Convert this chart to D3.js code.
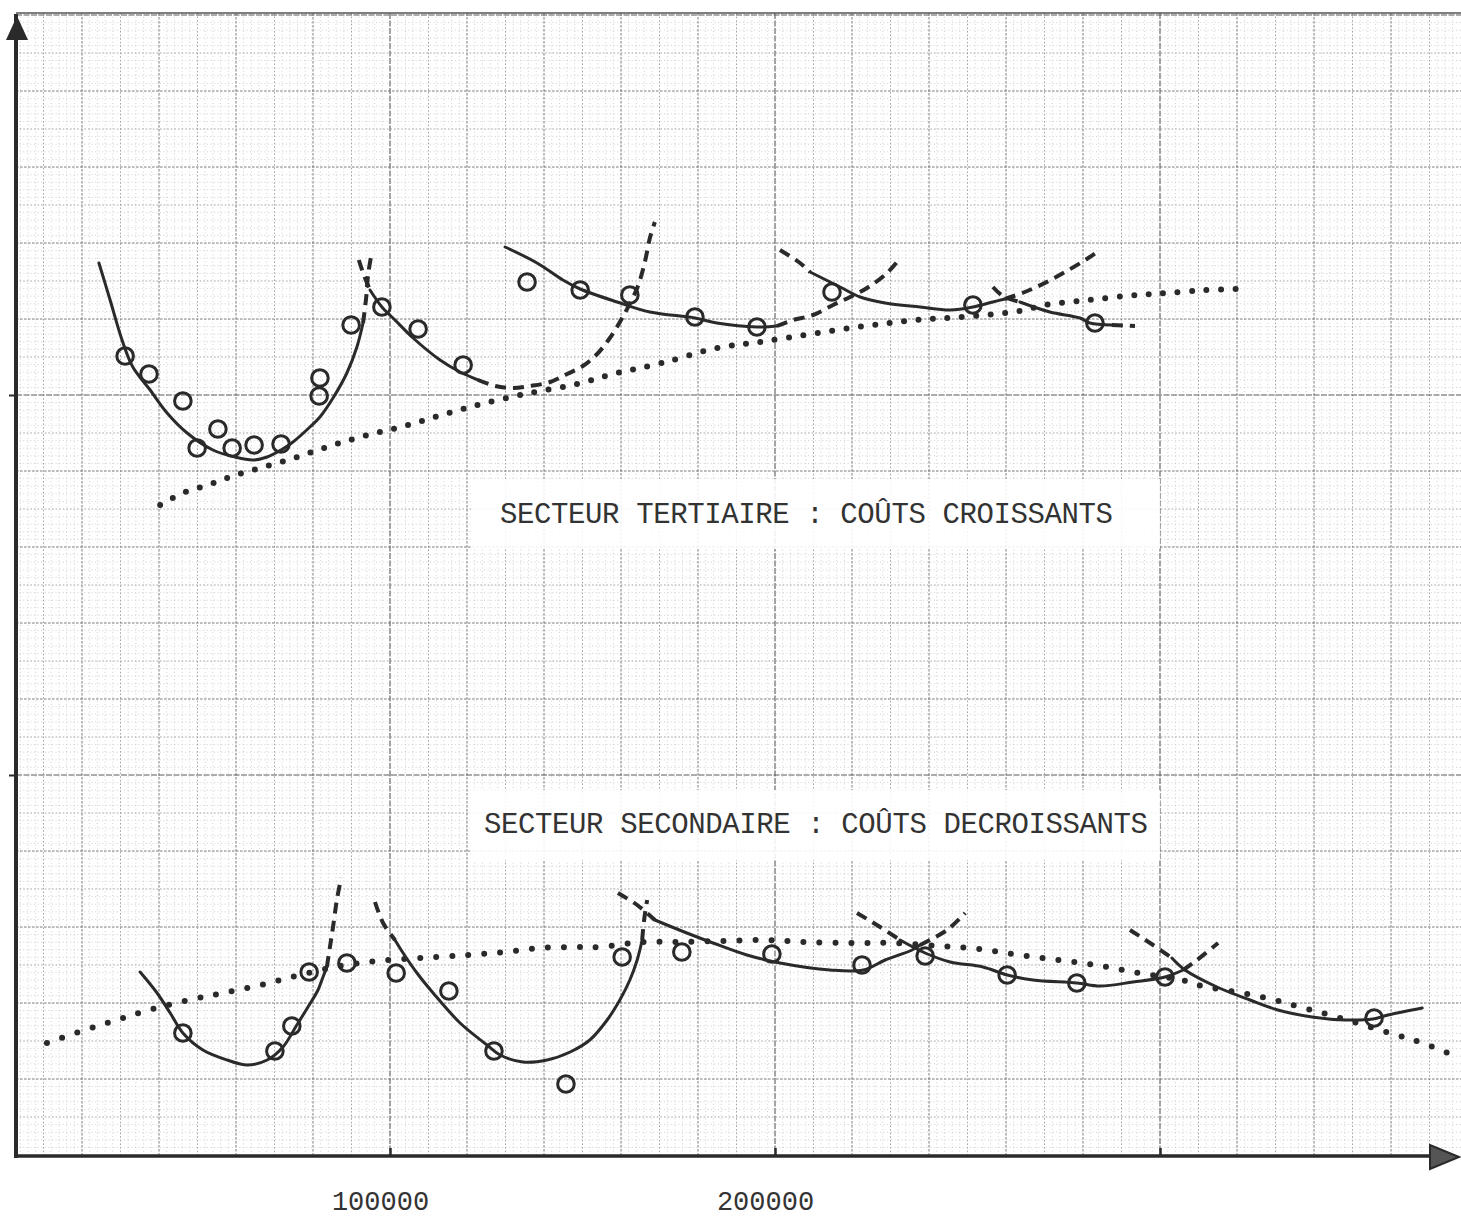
<!DOCTYPE html>
<html><head><meta charset="utf-8">
<script src="https://cdn.jsdelivr.net/npm/d3@7"></script>
<style>html,body{margin:0;padding:0;background:#fff;} svg{display:block}</style>
</head><body>
<svg id="chart" width="1461" height="1220"></svg>
<script>
// ---------- DATA (x in thousands, y arbitrary cost units) ----------
const xTickLabels = [100, 200];          // shown as 100000, 200000
const xTickMarks = [100, 200, 300];
const yTickMarks = [38, 76];
const labelTertiaire = "SECTEUR TERTIAIRE : COÛTS CROISSANTS";
const labelSecondaire = "SECTEUR SECONDAIRE : COÛTS DECROISSANTS";

// Secteur tertiaire : observations
const tertPoints = [[31.2,79.9],[37.4,78.1],[46.2,75.4],[55.3,72.6],[49.9,70.7],[59.0,70.7],[64.7,71.0],[71.7,71.1],[81.8,77.7],[81.6,75.9],[89.9,83.0],[97.9,84.8],[107.3,82.6],[119.0,79.0],[135.6,87.3],[149.4,86.5],[162.3,86.0],[179.2,83.8],[195.3,82.8],[214.8,86.3],[251.4,85.0],[283.1,83.2]];
// Secteur tertiaire : enveloppe (pointillé)
const tertEnvelope = [[40.3,65.0],[46.2,66.2],[52.7,67.0],[59.2,67.9],[66.2,68.7],[73.5,69.5],[80.5,70.4],[87.0,71.2],[94.3,72.0],[101.8,72.7],[109.1,73.5],[116.1,74.3],[124.7,75.2],[136.4,76.2],[148.6,77.1],[159.0,78.2],[170.6,79.2],[184.9,80.7],[197.9,81.4],[219.5,82.7],[236.9,83.5],[248.1,83.8],[263.6,84.4],[270.1,85.0],[281.3,85.5],[294.0,86.0],[301.8,86.2],[311.7,86.5],[320.0,86.6]];
// Secteur tertiaire : courbes de coût (trait plein + prolongements tiretés)
const t1Solid = [[24.4,89.2],[27.3,85.5],[30.4,81.5],[33.2,78.8],[37.7,76.5],[42.1,74.2],[47.3,72.2],[54.0,70.5],[59.7,69.8],[64.4,69.5],[68.1,69.8],[71.7,70.5],[74.8,71.3],[79.2,72.8],[81.8,73.8],[85.2,75.7],[88.8,78.2],[91.4,80.8],[93.0,83.2]];
const t1DashOut = [[93.0,83.2],[93.8,85.7],[94.3,88.0],[95.3,90.3]];
const t2DashIn = [[91.9,89.5],[93.2,88.0],[94.8,86.5]];
const t2Solid = [[94.8,86.5],[97.9,84.8],[101.3,83.5],[106.0,81.7],[113.0,79.5],[118.2,78.3],[122.9,77.5]];
const t2DashOut = [[122.9,77.5],[127.3,76.9],[131.7,76.7],[136.4,76.9],[141.6,77.3],[146.0,78.1],[150.1,78.9],[153.8,80.1],[157.1,81.7],[160.3,83.7],[164.2,86.7],[166.2,89.3],[167.5,91.7],[168.8,93.3]];
const t3Solid = [[129.9,90.8],[138.2,89.2],[144.9,87.5],[149.4,86.6],[159.0,85.3],[167.5,84.3],[179.2,83.7],[184.9,83.2],[195.3,82.8],[200.5,82.9]];
const t3DashOut = [[200.5,82.9],[204.7,83.5],[209.9,84.0],[215.1,85.0],[219.5,85.8],[223.9,86.7],[229.1,88.2],[232.5,89.7]];
const t4DashIn = [[201.3,90.5],[206.5,89.2],[209.1,88.3]];
const t4Solid = [[209.1,88.3],[216.9,86.8],[222.1,85.8],[228.6,85.2],[237.7,84.8],[245.5,84.5],[251.4,84.8],[256.6,85.3],[259.7,85.6]];
const t4DashOut = [[259.7,85.6],[264.9,86.3],[270.1,87.2],[275.8,88.4],[281.0,89.6],[283.6,90.3]];
const t5DashIn = [[256.6,86.8],[259.2,85.9],[263.6,85.3]];
const t5Solid = [[263.6,85.3],[271.4,84.3],[279.2,83.7],[281.8,83.2],[287.5,83.0]];
const t5DashOut = [[287.5,83.0],[293.5,82.9]];

// Secteur secondaire : observations
const secPoints = [[46.2,12.2],[70.1,10.4],[74.5,12.9],[79.0,18.3],[88.8,19.2],[101.6,18.2],[115.3,16.4],[127.0,10.4],[145.7,7.1],[160.3,19.8],[175.8,20.3],[199.2,20.1],[222.6,19.0],[239.0,19.9],[260.3,18.0],[278.4,17.2],[301.3,17.8],[355.6,13.7]];
// Secteur secondaire : enveloppe (pointillé)
const secEnvelope = [[10.9,11.2],[20.8,12.5],[29.1,13.5],[37.4,14.5],[49.1,15.6],[57.9,16.3],[67.5,17.1],[76.6,18.0],[87.0,18.9],[96.9,19.4],[108.3,19.7],[120.3,20.0],[129.9,20.3],[139.0,20.7],[147.5,20.8],[154.5,20.8],[165.7,21.3],[174.5,21.3],[185.7,21.4],[197.4,21.5],[207.8,21.3],[220.0,21.2],[230.6,21.2],[242.9,20.9],[253.2,20.6],[261.6,20.1],[269.4,19.7],[277.9,19.3],[286.2,18.8],[294.3,18.2],[305.7,17.5],[309.9,17.0],[326.5,15.8],[336.4,14.8],[346.8,13.7],[359.7,12.2],[368.1,11.2],[376.6,9.9]];
// Secteur secondaire : courbes de coût
const s1Solid = [[35.1,18.3],[39.5,16.2],[42.9,14.2],[46.2,12.2],[51.4,10.5],[57.7,9.5],[62.9,9.0],[68.1,9.5],[72.2,10.8],[75.8,13.0],[78.7,14.8],[81.3,16.5],[82.6,17.8],[83.6,18.8]];
const s1DashOut = [[83.6,18.8],[84.4,20.8],[85.2,22.8],[86.2,25.5],[87.3,27.7]];
const s2DashIn = [[96.1,25.3],[98.2,23.2],[101.3,21.5]];
const s2Solid = [[101.3,21.5],[103.4,20.2],[107.0,18.2],[111.2,16.2],[118.2,13.2],[125.2,11.0],[128.6,10.0],[134.5,9.3],[140.8,9.5],[146.8,10.3],[151.9,11.5],[156.4,13.5],[159.7,15.5],[162.3,17.5],[164.2,19.5],[165.5,21.5]];
const s2DashOut = [[165.5,21.5],[166.0,23.5],[166.8,25.5]];
const s3DashIn = [[159.2,26.2],[164.2,25.0],[168.8,23.5]];
const s3Solid = [[168.8,23.5],[177.1,22.2],[183.9,21.2],[192.7,20.0],[201.3,19.2],[214.3,18.5],[222.9,18.5],[228.6,19.5],[235.6,20.5],[237.7,21.0]];
const s3DashOut = [[237.7,21.0],[244.7,22.5],[249.4,24.2]];
const s4DashIn = [[221.3,24.2],[227.3,22.8],[232.5,21.5]];
const s4Solid = [[232.5,21.5],[239.0,20.2],[245.5,19.3],[254.0,18.8],[260.3,18.0],[267.0,17.5],[278.4,17.2],[284.4,16.9],[293.0,17.3],[301.3,17.8],[306.0,18.5]];
const s4DashOut = [[306.0,18.5],[309.6,19.5],[315.1,21.2]];
const s5DashIn = [[292.2,22.5],[298.2,21.0],[303.1,19.7]];
const s5Solid = [[303.1,19.7],[306.5,18.5],[314.8,16.8],[323.4,15.5],[330.6,14.5],[339.5,13.8],[348.1,13.5],[355.3,13.6],[359.2,14.0],[368.1,14.7]];

// ---------- DRAWING ----------
const svg = d3.select("#chart");
const W = 1461, H = 1220;
const x = d3.scaleLinear().domain([0, 100]).range([5, 390]);
const y = d3.scaleLinear().domain([0, 114]).range([1155, 15]);
const ink = "#2a2a2a";
const fontMono = "'Liberation Mono','DejaVu Sans Mono',monospace";

svg.append("rect").attr("width", W).attr("height", H).attr("fill", "#fff");

// graph paper
const grid = svg.append("g");
const gx0 = 16, gx1 = W, gy0 = 13, gy1 = 1156;
function styleGrid(sel, cls) {
  const st = [
    {c: "#b0b0b0", w: 0.6, d: "1,2.6"},
    {c: "#8e8e8e", w: 0.8, d: "1.6,2"},
    {c: "#6e6e6e", w: 0.9, d: "2.6,1.4"},
    {c: "#5a5a5a", w: 1.1, d: "6,1.5"}
  ][cls];
  sel.attr("stroke", st.c).attr("stroke-width", st.w);
  if (st.d) sel.attr("stroke-dasharray", st.d);
}
d3.range(2, 378, 2).forEach(k => {
  const px = x(k);
  if (px < gx0 + 2) return;
  const cls = k % 100 === 0 ? 3 : k % 20 === 0 ? 2 : k % 10 === 0 ? 1 : 0;
  grid.append("line").attr("x1", px).attr("x2", px).attr("y1", gy0).attr("y2", gy1).call(styleGrid, cls);
});
d3.range(1, 151).forEach(i => {
  const py = y(i * 0.76);
  const cls = i % 50 === 0 ? 3 : i % 10 === 0 ? 2 : i % 5 === 0 ? 1 : 0;
  grid.append("line").attr("x1", gx0).attr("x2", gx1).attr("y1", py).attr("y2", py).call(styleGrid, cls);
});

// white patches behind labels
svg.append("rect").attr("x", 472).attr("y", 479).attr("width", 688).attr("height", 70).attr("fill", "#fff").attr("opacity", 0.88);
svg.append("rect").attr("x", 470).attr("y", 790).attr("width", 690).attr("height", 70).attr("fill", "#fff").attr("opacity", 0.88);

// top paper border
svg.append("line").attr("x1", 16).attr("x2", W).attr("y1", 13).attr("y2", 13)
  .attr("stroke", "#555").attr("stroke-width", 1.6);

// axes
const xAxisY = 1156;
const yAxisX = 16;
svg.append("line").attr("x1", yAxisX).attr("x2", yAxisX).attr("y1", 14).attr("y2", xAxisY + 2)
  .attr("stroke", ink).attr("stroke-width", 4);
svg.append("path").attr("d", `M${yAxisX+1},16 L${yAxisX-10},40 L${yAxisX+12},40 Z`).attr("fill", ink);
svg.append("line").attr("x1", yAxisX - 2).attr("x2", 1440).attr("y1", xAxisY).attr("y2", xAxisY)
  .attr("stroke", ink).attr("stroke-width", 3.5);
svg.append("path").attr("d", `M1459,${xAxisY+1} L1430,${xAxisY-11} L1430,${xAxisY+13} Z`)
  .attr("fill", "#555").attr("stroke", ink).attr("stroke-width", 2);

// tick marks
const xMarks = svg.append("g").attr("transform", `translate(0,${xAxisY})`)
  .call(d3.axisBottom(x).tickValues(xTickMarks).tickSize(-8).tickFormat(""));
xMarks.select(".domain").remove();
xMarks.selectAll("line").attr("stroke", ink).attr("stroke-width", 2.5);
const yMarks = svg.append("g").attr("transform", `translate(${yAxisX},0)`)
  .call(d3.axisLeft(y).tickValues(yTickMarks).tickSize(7).tickFormat(""));
yMarks.select(".domain").remove();
yMarks.selectAll("line").attr("stroke", ink).attr("stroke-width", 2);

// tick labels
const xLab = svg.append("g").attr("transform", `translate(0,${xAxisY})`)
  .call(d3.axisBottom(x).tickValues(xTickLabels).tickSize(0).tickFormat(d => String(d * 1000)));
xLab.select(".domain").remove();
xLab.selectAll("text").attr("y", 54).attr("dy", 0).attr("dx", -10)
  .attr("font-family", fontMono).attr("font-size", 27).attr("fill", "#333");

// line generators
const line = d3.line().x(d => x(d[0])).y(d => y(d[1])).curve(d3.curveCatmullRom.alpha(0.5));
const solids = [t1Solid, t2Solid, t3Solid, t4Solid, t5Solid, s1Solid, s2Solid, s3Solid, s4Solid, s5Solid];
const dashes = [t1DashOut, t2DashIn, t2DashOut, t3DashOut, t4DashIn, t4DashOut, t5DashIn, t5DashOut,
  s1DashOut, s2DashIn, s2DashOut, s3DashIn, s3DashOut, s4DashIn, s4DashOut, s5DashIn];

const curves = svg.append("g").attr("fill", "none");
curves.selectAll("path.env").data([tertEnvelope, secEnvelope]).join("path")
  .attr("class", "env").attr("d", line)
  .attr("stroke", ink).attr("stroke-width", 6).attr("stroke-linecap", "round")
  .attr("stroke-dasharray", (d, i) => i === 0 ? "0,14.5" : "0,16");
curves.selectAll("path.dash").data(dashes).join("path")
  .attr("class", "dash").attr("d", line)
  .attr("stroke", ink).attr("stroke-width", 4).attr("stroke-dasharray", "11,7");
curves.selectAll("path.solid").data(solids).join("path")
  .attr("class", "solid").attr("d", line)
  .attr("stroke", ink).attr("stroke-width", 3).attr("stroke-linecap", "round");

// observation circles
svg.append("g").selectAll("circle").data(tertPoints.concat(secPoints)).join("circle")
  .attr("cx", d => x(d[0])).attr("cy", d => y(d[1])).attr("r", 8.3)
  .attr("fill", "none").attr("stroke", ink).attr("stroke-width", 3);

// sector labels
svg.append("text").attr("x", 500).attr("y", 523).text(labelTertiaire)
  .attr("font-family", fontMono).attr("font-size", 29).attr("fill", "#333")
  .attr("textLength", 613).attr("lengthAdjust", "spacing");
svg.append("text").attr("x", 484).attr("y", 833).text(labelSecondaire)
  .attr("font-family", fontMono).attr("font-size", 29).attr("fill", "#333")
  .attr("textLength", 664).attr("lengthAdjust", "spacing");
</script>
</body></html>
